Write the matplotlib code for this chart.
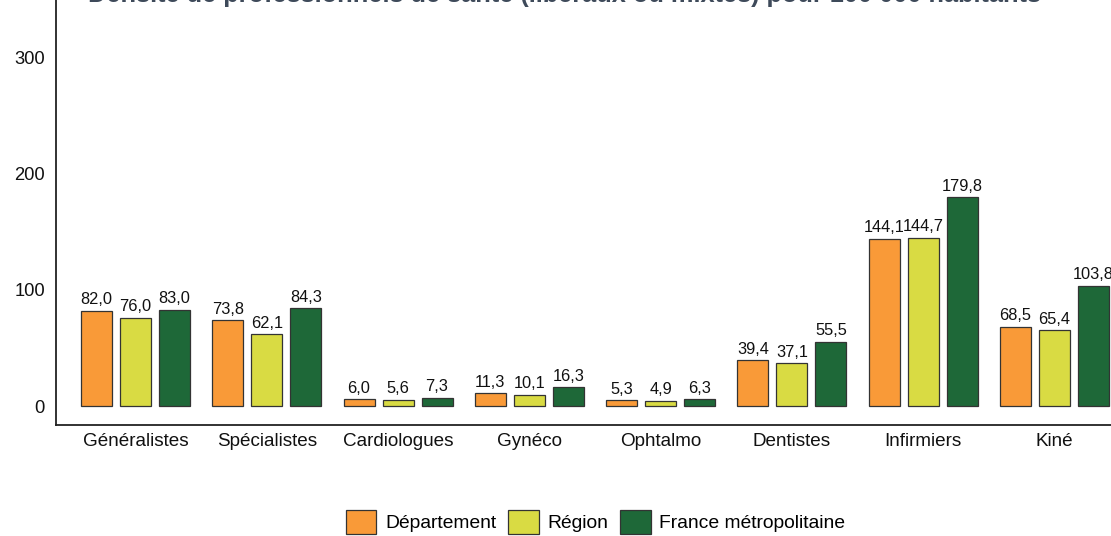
import matplotlib
matplotlib.use("Agg")
import matplotlib.pyplot as plt
from matplotlib.patches import Patch
import numpy as np

categories = ["Généralistes", "Spécialistes", "Cardiologues", "Gynéco", "Ophtalmo",
              "Dentistes", "Infirmiers", "Kiné"]
departement = [82.0, 73.8, 6.0, 11.3, 5.3, 39.4, 144.1, 68.5]
region = [76.0, 62.1, 5.6, 10.1, 4.9, 37.1, 144.7, 65.4]
france = [83.0, 84.3, 7.3, 16.3, 6.3, 55.5, 179.8, 103.8]
series_names = ["Département", "Région", "France métropolitaine"]
colors = ["#F99A38", "#D9DB43", "#1E6838"]
yticks = [0, 100, 200, 300]
title = "Densité de professionnels de santé (libéraux ou mixtes) pour 100 000 habitants"

plt.rcParams['font.family'] = ['Liberation Sans', 'DejaVu Sans']

fig = plt.figure(figsize=(11.11, 5.36), dpi=100)
ax = fig.add_axes([56/1111, 1-425/536, 1-56/1111, 425/536])

x = np.arange(len(categories))
offset = 0.297
width = 0.236
for i, (vals, c) in enumerate(zip([departement, region, france], colors)):
    xs = x + (i - 1) * offset
    ax.bar(xs, vals, width=width, color=c, edgecolor="#333333", linewidth=0.9, zorder=2)
    for xi, v in zip(xs, vals):
        ax.annotate(f"{v:.1f}".replace(".", ","), (xi, v), xytext=(0, 2.5),
                    textcoords="offset points", ha="center", va="bottom",
                    fontsize=11.8, color="#111111", clip_on=False)

ax.set_xlim(-0.605, 7.43)
ax.set_ylim(-16, 349)
ax.set_yticks(yticks)
ax.set_yticklabels([str(t) for t in yticks])
ax.set_xticks(x)
ax.set_xticklabels(categories)
ax.tick_params(axis="y", length=0, pad=8, labelsize=13.2, labelcolor="#111111")
ax.tick_params(axis="x", length=0, pad=6, labelsize=13.6, labelcolor="#111111")
for s in ["top", "right"]:
    ax.spines[s].set_visible(False)
for s in ["left", "bottom"]:
    ax.spines[s].set_linewidth(1.3)
    ax.spines[s].set_color("#222222")

fig.text(564/1111, 1 - 2/536, title, ha="center", va="baseline", fontsize=18.3,
         fontweight="bold", color="#3E4A5A")

handles = [Patch(facecolor=c, edgecolor="#333333", linewidth=0.9) for c in colors]
fig.legend(handles, series_names, loc="center", bbox_to_anchor=(595.5/1111, 1 - 522/536),
           ncol=3, frameon=False, fontsize=13.9, handlelength=1.6, handleheight=1.5,
           handletextpad=0.45, columnspacing=0.6, borderaxespad=0, borderpad=0)

fig.savefig("out.png", dpi=100)
